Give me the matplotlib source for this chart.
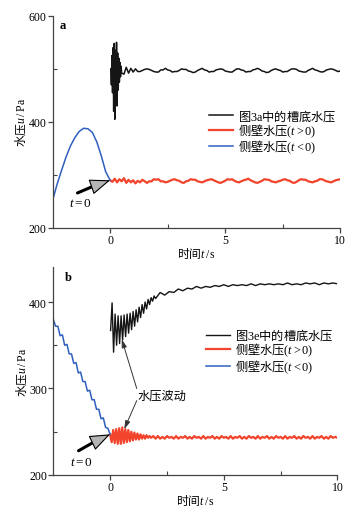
import matplotlib
matplotlib.use('Agg')
import matplotlib.pyplot as plt
import numpy as np

plt.rcParams['font.family'] = ['Liberation Serif', 'Noto Sans CJK SC']
plt.rcParams['mathtext.fontset'] = 'custom'
plt.rcParams['mathtext.rm'] = 'Liberation Serif'
plt.rcParams['mathtext.it'] = 'Liberation Serif:italic'
plt.rcParams['axes.unicode_minus'] = False

CJK = 'Noto Sans CJK SC'

# ---- 图 a ----
blue_a = [252, 282, 308, 333, 354, 370, 382, 388, 387, 380, 362, 336, 306, 290]
t_blue_a = np.linspace(-2.5, 0, len(blue_a))

red_a = [290, 287, 293, 286, 292, 288, 294, 285, 291, 286,
         290, 284, 289, 286, 291, 288,
         285, 288, 288, 292, 291, 292, 288, 288,
         286, 287, 289, 291, 292, 290, 289, 286,
         285, 288, 289, 292, 291, 291, 288, 287,
         286, 288, 290, 291, 292, 290, 288, 286,
         285, 287, 289, 292, 291, 292, 289, 287,
         286, 288, 290, 291, 293, 290, 288, 286,
         285, 287, 289, 292, 291, 291, 288, 287,
         286, 288, 289, 291, 292, 290, 289, 286,
         285, 287, 290, 292, 291, 291, 288, 287,
         286, 288, 289, 292, 292, 290, 288, 287,
         286, 288, 290, 291, 292]
t_red_a = np.linspace(0, 10, len(red_a))

# 槽底水压: 0~0.5s 剧烈振荡, 之后在 497 附近小幅波动
black_a_burst = [500, 470, 525, 455, 540, 420, 548, 405, 535, 440,
                 550, 430, 530, 460, 520, 475, 512, 485, 505, 492]
black_a_rest = [490, 503, 492, 501, 494, 500, 495,
                495, 497, 499, 500, 499, 497, 495, 494,
                494, 498, 498, 501, 498, 497, 494, 495,
                495, 497, 500, 499, 499, 496, 495, 493,
                494, 497, 499, 501, 498, 497, 494, 495,
                495, 498, 499, 500, 499, 496, 495, 494,
                494, 497, 500, 500, 498, 497, 494, 495,
                495, 498, 499, 501, 499, 496, 495, 493,
                494, 497, 499, 500, 498, 497, 494, 495,
                495, 498, 500, 500, 499, 496, 495, 494,
                494, 497, 499, 501, 498, 497, 495, 494,
                495, 498, 499, 500, 499, 497, 495, 496]
t_black_a = np.concatenate([np.linspace(0.03, 0.5, len(black_a_burst)),
                            np.linspace(0.6, 10, len(black_a_rest))])
black_a = black_a_burst + black_a_rest

# ---- 图 b ----
blue_b = [380, 372, 372, 361, 362, 350, 351, 340, 340, 329, 330, 318, 319,
          308, 308, 297, 298, 287, 287, 276, 276, 265, 266, 255, 254, 247]
t_blue_b = np.linspace(-2.5, 0, len(blue_b))

red_b_early = [247, 238, 252, 237, 253, 236, 254, 236, 255, 237, 253, 238, 252, 239,
               250, 240, 249, 241, 248, 241, 247, 242, 246, 242, 246, 243, 245, 243]
red_b_rest = [245, 242, 245, 242, 244, 242, 245, 243, 244, 242,
              245, 242, 244, 243, 245, 242, 244, 242, 245, 243,
              244, 242, 245, 242, 244, 243, 245, 242, 244, 242,
              245, 243, 244, 242, 245, 242, 244, 243, 245, 242,
              244, 242, 245, 243, 244, 242, 245, 242, 244, 243,
              245, 242, 244, 242, 245, 243, 244, 242, 245, 242,
              244, 243, 245, 242, 244, 242, 245, 243, 244, 242,
              245, 242, 244, 243, 245, 242, 244, 242, 245, 243,
              244, 243]
t_red_b = np.concatenate([np.linspace(0, 1.8, len(red_b_early)),
                          np.linspace(1.9, 10, len(red_b_rest))])
red_b = red_b_early + red_b_rest

black_b_early = [367, 399, 342, 386, 350, 384, 352, 384, 356, 385, 360, 386, 364, 387,
                 368, 389, 372, 391, 377, 394, 382, 397, 387, 400, 392, 403, 397, 405,
                 401, 407, 404]
black_b_rest = [411, 408, 412, 411, 415, 413, 416, 415, 418, 416,
                418, 417, 419, 418, 420, 418, 420, 419, 420, 419,
                421, 419, 421, 420, 421, 420, 421, 420, 422, 420,
                421, 420, 422, 421, 422, 420, 422, 421, 422, 421]
t_black_b = np.concatenate([np.linspace(0.02, 2.0, len(black_b_early)),
                            np.linspace(2.2, 10, len(black_b_rest))])
black_b = black_b_early + black_b_rest

c_black = '#151515'
c_red = '#f2442c'
c_blue = '#2f5fbe'

fig = plt.figure(figsize=(3.53, 5.10), dpi=100)
ax1 = fig.add_axes([0.149, 0.551, 0.815, 0.416])
ax2 = fig.add_axes([0.151, 0.0667, 0.805, 0.407])


def style_axes(ax, ylim, ymajor, yminor):
    ax.set_xlim(-2.5, 10)
    ax.set_ylim(*ylim)
    ax.set_xticks([0, 5, 10])
    ax.set_xticks([2.5, 7.5], minor=True)
    ax.set_yticks(ymajor)
    ax.set_yticks(yminor, minor=True)
    for s in ['top', 'right']:
        ax.spines[s].set_visible(False)
    for s in ['left', 'bottom']:
        ax.spines[s].set_color('#444444')
        ax.spines[s].set_linewidth(0.9)
    ax.tick_params(which='major', direction='out', length=3.5, width=0.9,
                   color='#444444', labelsize=8.5, pad=1)
    ax.tick_params(which='minor', direction='in', length=3, width=0.8, color='#444444')
    ax.set_xlabel('时间$t\\,/\\,\\mathrm{s}$', fontfamily=CJK, fontsize=8.5, labelpad=-1)
    ax.set_ylabel('水压$u\\,/\\,\\mathrm{Pa}$', fontfamily=CJK, fontsize=8.5, labelpad=0)


def t0_arrow(ax, tail, base, tip, txt_xy):
    ax.annotate('', xy=base, xytext=tail,
                arrowprops=dict(arrowstyle='-', color='black', lw=2.2, shrinkA=0, shrinkB=0))
    ax.annotate('', xy=tip, xytext=base,
                arrowprops=dict(arrowstyle='-|>,head_length=1.3,head_width=0.5',
                                fc='#b4b4b4', ec='black', lw=0.8, shrinkA=0, shrinkB=0,
                                mutation_scale=10))
    ax.text(txt_xy[0], txt_xy[1], '$t{=}0$', fontsize=9.5, ha='center', va='center')


leg_kw = dict(loc='upper left', bbox_transform=fig.transFigure, frameon=False,
              prop={'family': CJK, 'size': 8.8}, handlelength=2.0, handletextpad=0.35,
              labelspacing=-0.1, borderpad=0, borderaxespad=0)

# 图 a
ax1.plot(t_black_a, black_a, color=c_black, lw=1.1, label='图$\\mathrm{3a}$中的槽底水压')
ax1.plot(t_red_a, red_a, color=c_red, lw=1.6, label='侧壁水压$(t{>}0)$')
ax1.plot(t_blue_a, blue_a, color=c_blue, lw=1.1, label='侧壁水压$(t{<}0)$')
style_axes(ax1, (200, 600), [200, 400, 600], [300, 500])
ax1.text(0.025, 0.985, 'a', transform=ax1.transAxes, fontsize=9, fontweight='bold',
         va='top', ha='left')
t0_arrow(ax1, (-1.42, 266), (-0.72, 279), (0, 290), (-1.3, 247))
ax1.legend(bbox_to_anchor=(0.592, 0.788), **leg_kw)

# 图 b
ax2.plot(t_black_b, black_b, color=c_black, lw=1.0, label='图$\\mathrm{3e}$中的槽底水压')
ax2.plot(t_red_b, red_b, color=c_red, lw=1.6, label='侧壁水压$(t{>}0)$')
ax2.plot(t_blue_b, blue_b, color=c_blue, lw=1.1, label='侧壁水压$(t{<}0)$')
style_axes(ax2, (200, 440), [200, 300, 400], [250, 350])
ax2.text(0.04, 0.985, 'b', transform=ax2.transAxes, fontsize=9, fontweight='bold',
         va='top', ha='left')
t0_arrow(ax2, (-1.39, 228), (-0.72, 238), (0, 247), (-1.25, 214.5))
ax2.text(2.3, 291.5, '水压波动', fontsize=8.8, ha='center', va='center')
ax2.annotate('', xy=(0.51, 357), xytext=(1.17, 300),
             arrowprops=dict(arrowstyle='-|>,head_length=0.5,head_width=0.15',
                             color='#333333', lw=0.7, shrinkA=0, shrinkB=0))
ax2.annotate('', xy=(0.62, 253), xytext=(1.17, 286),
             arrowprops=dict(arrowstyle='-|>,head_length=0.5,head_width=0.15',
                             color='#333333', lw=0.7, shrinkA=0, shrinkB=0))
ax2.legend(bbox_to_anchor=(0.583, 0.358), **leg_kw)

fig.savefig('out.png', dpi=100)
